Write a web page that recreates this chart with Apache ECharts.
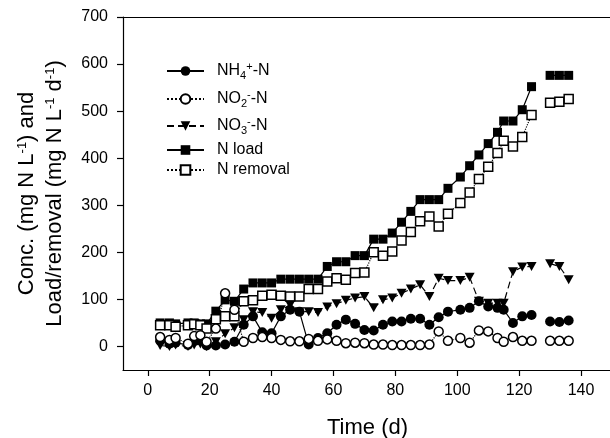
<!DOCTYPE html>
<html><head><meta charset="utf-8">
<script src="https://cdn.jsdelivr.net/npm/echarts@6/dist/echarts.min.js"></script>
<style>html,body{margin:0;padding:0;background:#fff}#c{width:610px;height:438px}</style>
</head><body><div id="c"></div>
<script>
// Time (d)
const days = [4,7,9,13,15,17,19,22,25,28,31,34,37,40,43,46,49,52,55,58,61,64,67,70,73,76,79,82,85,88,91,94,97,101,104,107,110,113,115,118,121,124,130,133,136];
// NH4+-N (mg N/L)
const nh4 = [12,6,8,3,12,15,2,2,4,10,46,64,30,28,64,78,74,4,18,28,46,57,48,35,34,46,53,53,59,59,46,62,74,78,82,96,85,82,78,50,64,67,53,52,55];
// NO2--N (mg N/L)
const no2 = [20,14,18,6,22,24,10,38,113,78,10,18,20,18,14,11,11,16,12,15,12,7,8,7,4,4,3,3,3,3,4,32,12,18,8,34,32,18,10,20,12,12,12,12,12];
// NO3--N (mg N/L)
const no3 = [2,0,3,0,3,5,0,10,27,40,57,74,72,60,78,88,74,74,72,84,91,98,103,106,82,99,103,113,122,131,106,145,140,140,147,96,92,92,92,159,169,170,176,170,142];
// N load (mg N/L/d)
const nLoad = [50,50,48,50,50,48,48,75,99,96,122,135,135,135,143,143,143,143,143,170,180,180,193,193,228,228,241,264,287,312,312,312,336,360,384,407,431,455,479,479,503,552,576,576,576];
// N removal (mg N/L/d)
const nRemoval = [45,45,42,45,47,45,38,58,64,64,96,98,108,110,108,106,106,122,122,138,145,142,156,157,200,193,202,225,243,266,276,255,282,305,327,356,382,411,437,425,445,492,518,520,526];

const xTicks = [0,20,40,60,80,100,120,140];
const yTicks = [0,100,200,300,400,500,600,700];
const seriesNames = ['NH4+-N','NO2--N','NO3--N','N load','N removal'];

const FONT = '"Liberation Sans", Arial, sans-serif';

function pairs(vals){
  const out = [];
  for (let i = 0; i < days.length; i++) {
    if (i > 0 && days[i] - days[i-1] > 5) out.push([(days[i] + days[i-1]) / 2, null]);
    out.push([days[i], vals[i]]);
  }
  return out;
}

const downTri = 'path://M0,0 L10,0 L5,9 Z';

const legendRich = {
  a: {fontSize: 16, fontFamily: FONT, color: '#000'},
  sub: {fontSize: 11, fontFamily: FONT, color: '#000', padding: [9,0,0,0]},
  sup: {fontSize: 11, fontFamily: FONT, color: '#000', padding: [0,0,9,0]}
};
const legendText = {
  'NH4+-N': '{a|NH}{sub|4}{sup|+}{a|-N}',
  'NO2--N': '{a|NO}{sub|2}{sup|-}{a|-N}',
  'NO3--N': '{a|NO}{sub|3}{sup|-}{a|-N}',
  'N load': '{a|N load}',
  'N removal': '{a|N removal}'
};
const legendCenters = [67, 95, 122, 148, 168];

const chart = echarts.init(document.getElementById('c'), null, {renderer: 'canvas'});

const black = '#000';
function lineSeries(name, vals, symbol, size, filled, lineType){
  return {
    name, type: 'line', data: pairs(vals), symbol, symbolSize: size,
    connectNulls: false, animation: false,
    lineStyle: {color: black, width: 1.2, type: lineType},
    itemStyle: filled ? {color: black, borderColor: black, borderWidth: 0}
                      : {color: '#fff', borderColor: black, borderWidth: 1.5},
    emphasis: {disabled: true}
  };
}

const option = {
  backgroundColor: '#fff',
  animation: false,
  textStyle: {fontFamily: FONT},
  grid: {left: 123, top: 17, right: -2, bottom: 68, containLabel: false, outerBoundsMode: 'none'},
  legend: seriesNames.map((n, i) => ({
    data: [n], left: 166, top: legendCenters[i] - 6, padding: 0,
    itemWidth: 37, itemHeight: 12, selectedMode: false,
    textStyle: {fontFamily: FONT, fontSize: 16, color: '#000', padding: [0,0,0,8], rich: legendRich},
    formatter: (name) => legendText[name]
  })),
  xAxis: [{
    type: 'value', min: -8, max: 150,
    name: 'Time (d)', nameLocation: 'middle', nameGap: 47,
    nameTextStyle: {fontFamily: FONT, fontSize: 22, color: '#000'},
    axisLine: {show: true, onZero: false, lineStyle: {color: '#000', width: 1.2}},
    axisTick: {show: true, length: 6, lineStyle: {color: '#000', width: 1.2}, customValues: xTicks},
    axisLabel: {fontFamily: FONT, fontSize: 16, color: '#000', margin: 13, customValues: xTicks},
    splitLine: {show: false}
  }, {
    type: 'value', min: -8, max: 150, position: 'top',
    axisLine: {show: true, onZero: false, lineStyle: {color: '#000', width: 1.2}},
    axisTick: {show: false}, axisLabel: {show: false}, splitLine: {show: false}
  }],
  yAxis: {
    type: 'value', min: -50, max: 700,
    name: '{t|Conc. (mg N L}{s|-1}{t|) and}\n{t|Load/removal (mg N L}{s|-1}{t| d}{s|-1}{t|)}',
    nameLocation: 'middle', nameRotate: 90, nameGap: 54,
    nameTextStyle: {
      fontFamily: FONT, fontSize: 22, color: '#000', lineHeight: 28,
      rich: {
        t: {fontFamily: FONT, fontSize: 22, color: '#000', lineHeight: 28},
        s: {fontFamily: FONT, fontSize: 13, color: '#000', padding: [0,0,10,0]}
      }
    },
    axisLine: {show: true, onZero: false, lineStyle: {color: '#000', width: 1.2}},
    axisTick: {show: true, length: 6, lineStyle: {color: '#000', width: 1.2}, customValues: yTicks},
    axisLabel: {fontFamily: FONT, fontSize: 16, color: '#000', margin: 15, customValues: yTicks},
    splitLine: {show: false}
  },
  series: [
    lineSeries('N load', nLoad, 'rect', 9, true, 'solid'),
    lineSeries('N removal', nRemoval, 'rect', 9, false, 'dotted'),
    lineSeries('NO3--N', no3, downTri, [10,9], true, [7,4]),
    lineSeries('NH4+-N', nh4, 'circle', 10, true, 'solid'),
    lineSeries('NO2--N', no2, 'circle', 9, false, 'dotted')
  ]
};
chart.setOption(option);
</script></body></html>
